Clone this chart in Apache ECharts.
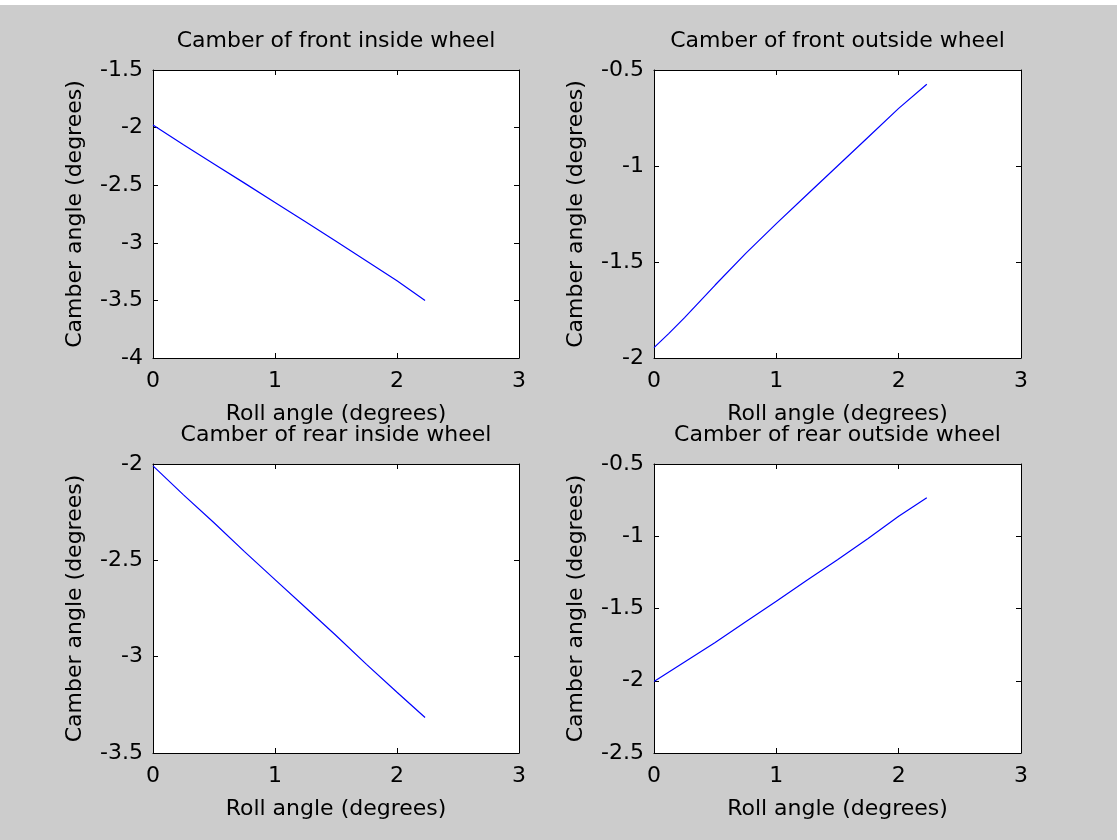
<!DOCTYPE html>
<html>
<head>
<meta charset="utf-8">
<title>Camber vs roll angle</title>
<script src="https://cdn.jsdelivr.net/npm/echarts@6/dist/echarts.min.js"></script>
<style>
  html, body { margin: 0; padding: 0; background: #cccccc; }
  #chart { width: 1117px; height: 840px; }
</style>
</head>
<body>
<div id="chart"></div>
<script>
// Roll angle samples (degrees) and camber (degrees) for each wheel
const rollFrontInside  = [0, 0.25, 0.5, 0.75, 1.0, 1.25, 1.5, 1.75, 2.0, 2.23];
const camberFrontInside = [-1.977, -2.148, -2.315, -2.482, -2.65, -2.818, -2.987, -3.157, -3.33, -3.5];

const rollFrontOutside  = [0, 0.12, 0.25, 0.5, 0.75, 1.0, 1.25, 1.5, 1.75, 2.0, 2.23];
const camberFrontOutside = [-1.946, -1.873, -1.79, -1.62, -1.455, -1.30, -1.15, -1.0, -0.85, -0.70, -0.574];

const rollRearInside  = [0, 0.25, 0.5, 0.75, 1.0, 1.25, 1.5, 1.75, 2.0, 2.23];
const camberRearInside = [-2.01, -2.16, -2.305, -2.455, -2.60, -2.745, -2.89, -3.04, -3.185, -3.316];

const rollRearOutside  = [0, 0.25, 0.5, 0.75, 1.0, 1.25, 1.5, 1.75, 2.0, 2.23];
const camberRearOutside = [-2.005, -1.87, -1.735, -1.592, -1.45, -1.305, -1.162, -1.015, -0.862, -0.733];

const panelTitles = [
  'Camber of front inside wheel',
  'Camber of front outside wheel',
  'Camber of rear inside wheel',
  'Camber of rear outside wheel'
];
const xName = 'Roll angle (degrees)';
const yName = 'Camber angle (degrees)';
const xRange = [0, 3];
const yRanges = [[-4, -1.5], [-2, -0.5], [-3.5, -2], [-2.5, -0.5]];

const FONT = 'DejaVu Sans';
const INK = '#000000';

const grids = [
  { left: 153, top: 70,  width: 366, height: 288 },
  { left: 654, top: 70,  width: 367, height: 288 },
  { left: 153, top: 464, width: 366, height: 289 },
  { left: 654, top: 464, width: 367, height: 289 }
];

const panels = [
  [rollFrontInside, camberFrontInside],
  [rollFrontOutside, camberFrontOutside],
  [rollRearInside, camberRearInside],
  [rollRearOutside, camberRearOutside]
];

const zip = (xs, ys) => xs.map((x, i) => [x, ys[i]]);

const tickStyle = { inside: true, length: 5, lineStyle: { color: INK, width: 1 } };
const lineStyle = { show: true, onZero: false, lineStyle: { color: INK, width: 1 } };
const textBase = { fontFamily: FONT, fontSize: 22, color: INK };

const xAxes = [], yAxes = [], series = [], titles = [];

grids.forEach((g, i) => {
  xAxes.push({
    gridIndex: i, type: 'value', position: 'bottom',
    min: xRange[0], max: xRange[1], interval: 1,
    axisLine: lineStyle, axisTick: tickStyle, splitLine: { show: false },
    axisLabel: Object.assign({ margin: 12, showMinLabel: true, showMaxLabel: true }, textBase),
    name: xName, nameLocation: 'middle', nameGap: 45,
    nameTextStyle: textBase
  });
  xAxes.push({
    gridIndex: i, type: 'value', position: 'top',
    min: xRange[0], max: xRange[1], interval: 1,
    axisLine: lineStyle, axisTick: tickStyle, splitLine: { show: false },
    axisLabel: { show: false }
  });
  const [ymin, ymax] = yRanges[i];
  yAxes.push({
    gridIndex: i, type: 'value', position: 'left',
    min: ymin, max: ymax, interval: 0.5,
    axisLine: lineStyle, axisTick: tickStyle, splitLine: { show: false },
    axisLabel: Object.assign({ margin: 10, showMinLabel: true, showMaxLabel: true }, textBase),
    name: yName, nameLocation: 'middle', nameGap: 67,
    nameTextStyle: textBase
  });
  yAxes.push({
    gridIndex: i, type: 'value', position: 'right',
    min: ymin, max: ymax, interval: 0.5,
    axisLine: lineStyle, axisTick: tickStyle, splitLine: { show: false },
    axisLabel: { show: false }
  });
  series.push({
    type: 'line',
    xAxisIndex: 2 * i, yAxisIndex: 2 * i,
    data: zip(panels[i][0], panels[i][1]),
    showSymbol: false, silent: true, animation: false,
    lineStyle: { color: '#0000ff', width: 1.2 }
  });
  titles.push({
    text: panelTitles[i],
    left: g.left + g.width / 2,
    top: g.top - 40,
    textAlign: 'center',
    padding: 0,
    textStyle: Object.assign({ fontWeight: 'normal' }, textBase)
  });
});

const chart = echarts.init(document.getElementById('chart'), null, { renderer: 'canvas' });
chart.setOption({
  backgroundColor: '#cccccc',
  animation: false,
  title: titles,
  grid: grids.map(g => Object.assign({ show: true, backgroundColor: '#ffffff', borderWidth: 0, containLabel: false }, g)),
  xAxis: xAxes,
  yAxis: yAxes,
  series: series,
  graphic: [{
    type: 'rect', left: 0, top: 0, silent: true,
    shape: { width: 1117, height: 5 },
    style: { fill: '#ffffff' }
  }]
});
</script>
</body>
</html>
